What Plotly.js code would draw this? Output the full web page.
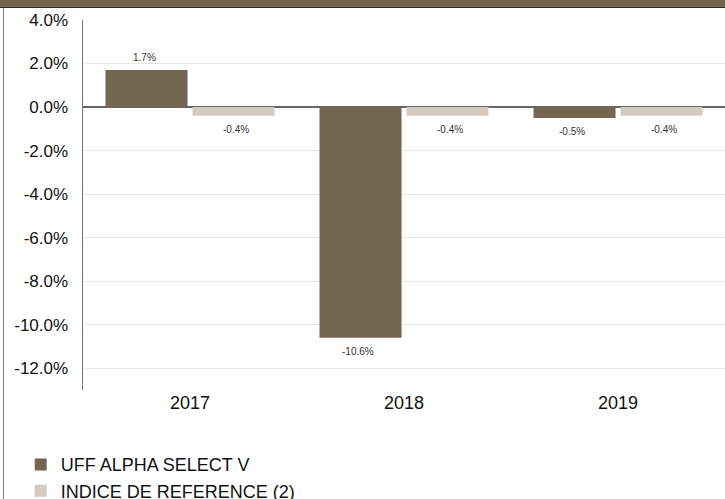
<!DOCTYPE html>
<html>
<head>
<meta charset="utf-8">
<script src="https://cdn.plot.ly/plotly-3.0.1.min.js"></script>
<style>
  html, body { margin: 0; padding: 0; background: #fff; }
  #wrap { position: relative; width: 725px; height: 499px; overflow: hidden; }
  #head { position: absolute; left: 0; top: 0; width: 725px; height: 7px; background: #756651; border-bottom: 1px solid #2b2b2b; z-index: 2; }
  #lborder { position: absolute; left: 3px; top: 8px; width: 1px; height: 491px; background: #777; z-index: 2; }
  #chart { position: absolute; left: 0; top: 0; width: 725px; height: 499px; }
</style>
</head>
<body>
<div id="wrap">
  <div id="chart"></div>
  <div id="head"></div>
  <div id="lborder"></div>
</div>
<script>
const categories = ["2017", "2018", "2019"];
const seriesNames = ["UFF ALPHA SELECT V", "INDICE DE REFERENCE (2)"];
const fundValues = [1.7, -10.6, -0.5];
const indexValues = [-0.4, -0.4, -0.4];
const yTickValues = [4, 2, 0, -2, -4, -6, -8, -10, -12];
const yTickLabels = ["4.0%", "2.0%", "0.0%", "-2.0%", "-4.0%", "-6.0%", "-8.0%", "-10.0%", "-12.0%"];

const colors = ["#756651", "#d3cac0"];
const fmt = v => v.toFixed(1) + "%";

const traces = [
  { type: "bar", name: seriesNames[0], x: categories, y: fundValues, marker: { color: colors[0] }, hoverinfo: "none" },
  { type: "bar", name: seriesNames[1], x: categories, y: indexValues, marker: { color: colors[1] }, hoverinfo: "none" }
];

const annotations = [];
[fundValues, indexValues].forEach((vals, si) => {
  vals.forEach((v, i) => {
    annotations.push({
      x: i, y: v, xref: "x", yref: "y",
      xshift: si === 0 ? -46 : 46,
      yshift: v >= 0 ? 13 : -14,
      text: fmt(v), showarrow: false,
      font: { family: "Liberation Sans, Arial, sans-serif", size: 10, color: "#333" },
      yanchor: "middle", xanchor: "center"
    });
  });
});

const layout = {
  width: 725, height: 499,
  margin: { l: 83, r: 0, t: 20, b: 109, autoexpand: false },
  paper_bgcolor: "#fff", plot_bgcolor: "#fff",
  font: { family: "Liberation Sans, Arial, sans-serif", color: "#111" },
  barmode: "group", bargap: 0.187, bargroupgap: 0.057,
  showlegend: true,
  legend: {
    orientation: "v", x: -0.097, xanchor: "left", y: -0.152, yanchor: "top",
    font: { size: 18, color: "#111" }, tracegroupgap: 0, itemclick: false,
    bgcolor: "rgba(0,0,0,0)"
  },
  xaxis: {
    type: "category", range: [-0.5, 2.5], showgrid: false, zeroline: false,
    showline: false, ticks: "", tickfont: { size: 18 }, ticklabelstandoff: 0, fixedrange: true
  },
  yaxis: {
    range: [-13, 4], tickvals: yTickValues, ticktext: yTickLabels,
    tickfont: { size: 17 }, showgrid: true, gridcolor: "#e6e6e6", gridwidth: 1,
    zeroline: true, zerolinecolor: "#666", zerolinewidth: 1.5,
    showline: true, linecolor: "#777", linewidth: 1.5, ticks: "", ticklabelstandoff: 10,
    fixedrange: true
  },
  annotations: annotations
};

Plotly.newPlot("chart", traces, layout, { displayModeBar: false, staticPlot: true });
</script>
</body>
</html>
